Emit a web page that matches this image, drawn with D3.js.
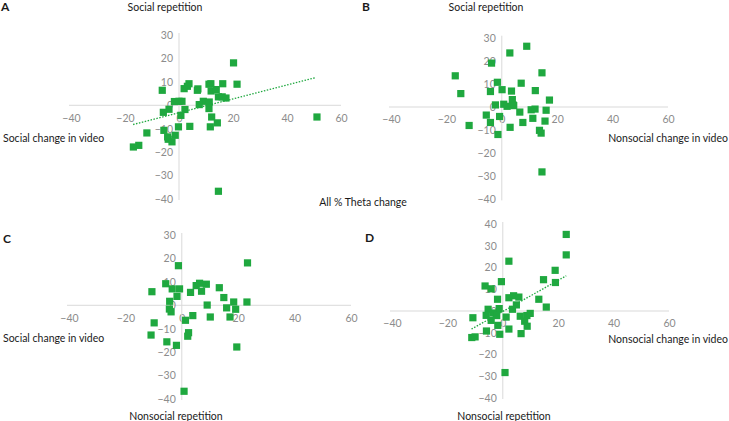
<!DOCTYPE html>
<html>
<head>
<meta charset="utf-8">
<script src="https://cdn.jsdelivr.net/npm/d3@7"></script>
<style>
  html, body { margin: 0; padding: 0; background: #fff; }
  svg { display: block; }
  text { font-family: Lato, "Open Sans", sans-serif; }
</style>
</head>
<body>
<svg id="chart" width="729" height="421"></svg>
<script>
// ---------- DATA ----------
const xTicks = [-40, -20, 0, 20, 40, 60];
const yTicksABC = [30, 20, 10, 0, -10, -20, -30, -40];
const yTicksD = [40, 30, 20, 10, 0, -10, -20, -30, -40];

// Panel A: Social repetition vs Social change in video  [x, y]
const pointsA = [
  [20.2, 18.1], [21.5, 9.0], [16.2, 9.2], [11.1, 9.0], [11.8, 9.2],
  [11.9, 6.1], [13.8, 6.7], [14.6, 3.6], [16.0, 3.6], [17.4, 3.1],
  [9.0, 1.7], [11.2, 1.4], [7.5, 0.3], [11.1, -1.4], [12.1, -5.0],
  [14.2, -7.5], [11.6, -9.2], [6.8, 6.4], [7.0, 7.0], [3.7, 9.2],
  [3.1, 8.1], [1.9, 7.1], [1.1, 1.7], [0.0, 1.7], [-1.7, 1.6],
  [2.2, -1.8], [0.7, -4.3], [-0.2, -9.2], [4.0, -9.0], [-3.7, -1.7],
  [-5.8, -3.0], [-6.2, 6.4], [-5.6, -10.7], [-4.2, -13.5], [-4.0, -14.5],
  [-2.6, -15.6], [-1.4, -12.8], [-11.9, -11.8], [-14.9, -17.1], [-16.9, -17.8],
  [51.1, -5.0], [14.6, -36.7]
];
const trendA = [[-17.0, -8.2], [50.6, 11.8]];

// Panel B: Social repetition vs Nonsocial change in video
const pointsB = [
  [9.0, 26.3], [2.9, 23.4], [-3.7, 19.0], [-16.8, 13.5], [14.5, 14.8],
  [-14.8, 5.8], [-1.6, 10.7], [-4.1, 6.7], [0.1, 7.5], [3.5, 6.9],
  [7.0, 10.3], [12.1, 7.1], [17.2, 3.0], [3.8, 3.2], [4.0, 1.0],
  [-2.3, 0.9], [0.7, 1.2], [1.9, 0.3], [4.3, 0.6], [6.5, -2.2],
  [10.6, -1.2], [12.0, -0.9], [16.0, -1.4], [11.2, -4.9], [7.6, -6.7],
  [15.6, -6.1], [-5.6, -3.5], [-4.1, -6.7], [-0.8, -4.1], [-11.8, -8.0],
  [3.0, -8.8], [-1.4, -11.9], [13.6, -10.1], [14.2, -11.3], [14.5, -28.1]
];

// Panel C: Nonsocial repetition vs Social change in video
const pointsC = [
  [23.3, 18.1], [-1.2, 16.9], [-10.6, 5.8], [-5.7, 9.2], [-3.4, 7.0],
  [-0.8, 7.0], [-1.7, 3.8], [-4.3, 1.7], [-4.4, -1.6], [-3.8, -2.8],
  [3.1, 5.5], [5.1, 8.4], [6.3, 9.4], [7.0, 6.0], [8.7, 9.0],
  [13.3, 7.5], [14.9, 3.3], [9.0, 0.1], [18.4, 1.4], [23.1, 1.4],
  [15.9, -1.1], [19.1, -1.7], [3.9, -4.4], [10.1, -5.0], [17.1, -5.0],
  [1.3, -6.4], [-9.8, -7.5], [2.4, -11.7], [2.1, -13.2], [-10.9, -12.7],
  [-5.3, -15.6], [-1.9, -17.1], [19.5, -17.8], [0.8, -36.7]
];

// Panel D: Nonsocial repetition vs Nonsocial change in video
const pointsD = [
  [22.9, 35.2], [22.9, 25.8], [18.9, 18.7], [19.0, 13.1], [14.7, 14.4],
  [13.0, 5.4], [15.7, 1.8], [2.2, 22.9], [-0.5, 13.5], [-6.4, 11.5],
  [-4.2, 10.2], [-1.9, 5.4], [3.9, 7.0], [2.2, 6.1], [5.8, 6.4],
  [4.9, 2.8], [3.5, 0.8], [-5.3, 0.8], [-1.3, 1.1], [-3.6, -0.9],
  [-6.0, -2.0], [-2.2, -2.1], [-4.2, -4.3], [1.2, -2.8], [6.3, -2.4],
  [8.7, -2.1], [9.9, -1.1], [7.9, -4.7], [8.8, -7.0], [-1.8, -6.6],
  [2.2, -8.3], [-10.8, -3.1], [-5.9, -9.2], [6.6, -10.4], [-1.1, -10.7],
  [-11.2, -12.2], [-10.0, -11.9], [0.8, -28.3]
];
const trendD = [[-11.3, -8.3], [22.9, 16.2]];

// ---------- LAYOUT ----------
const svg = d3.select("#chart");
const GREEN = "#1fa83f";
const AXIS = "#d9d9d9";
const TICK = "#8c8c8c";
const LABEL = "#1a1a1a";

const panels = [
  { pts: pointsA, trend: trendA, yTicks: yTicksABC, xr: [71, 341], yr: [199, 35], yd: [-40, 30] },
  { pts: pointsB, trend: null,   yTicks: yTicksABC, xr: [391, 668], yr: [199.4, 37.7], yd: [-40, 30] },
  { pts: pointsC, trend: null,   yTicks: yTicksABC, xr: [69, 351], yr: [399, 235], yd: [-40, 30] },
  { pts: pointsD, trend: trendD, yTicks: yTicksD,   xr: [392, 669], yr: [398, 224], yd: [-40, 40] }
];

panels.forEach(p => {
  const x = d3.scaleLinear().domain([-40, 60]).range(p.xr);
  const y = d3.scaleLinear().domain(p.yd).range(p.yr);
  const g = svg.append("g");

  // horizontal axis at y = 0
  const gx = g.append("g").attr("transform", `translate(0,${y(0)})`)
    .call(d3.axisBottom(x).tickValues(xTicks).tickSize(0).tickPadding(9).tickFormat(d3.format("d")));
  gx.select(".domain").attr("stroke", AXIS).attr("d", `M${x(-40) - 2},0H${x(60)}`);
  gx.selectAll("text").attr("fill", TICK).attr("font-size", 10.5).attr("font-family", "Lato, sans-serif");

  // vertical axis at x = 0
  const gy = g.append("g").attr("transform", `translate(${x(0)},0)`)
    .call(d3.axisLeft(y).tickValues(p.yTicks).tickSize(0).tickPadding(6).tickFormat(d3.format("d")));
  gy.select(".domain").attr("stroke", AXIS).attr("d", `M0,${y(p.yd[1]) - 2}V${y(p.yd[0]) + 1}`);
  gy.selectAll("text").attr("fill", TICK).attr("font-size", 10.5).attr("font-family", "Lato, sans-serif");

  // trend line
  if (p.trend) {
    g.append("line")
      .attr("x1", x(p.trend[0][0])).attr("y1", y(p.trend[0][1]))
      .attr("x2", x(p.trend[1][0])).attr("y2", y(p.trend[1][1]))
      .attr("stroke", GREEN).attr("stroke-width", 1.3).attr("stroke-dasharray", "1.5,1.5");
  }

  // points
  const s = 7.2;
  g.selectAll("rect.pt").data(p.pts).join("rect")
    .attr("class", "pt")
    .attr("x", d => x(d[0]) - s / 2).attr("y", d => y(d[1]) - s / 2)
    .attr("width", s).attr("height", s)
    .attr("fill", GREEN);
});

// ---------- TEXT LABELS ----------
const labels = [
  { t: "A", x: 1, y: 7, a: "start", b: true },
  { t: "Social repetition", x: 165, y: 7, a: "middle" },
  { t: "B", x: 362, y: 7, a: "start", b: true },
  { t: "Social repetition", x: 486, y: 7, a: "middle" },
  { t: "Social change in video", x: 3, y: 138, a: "start" },
  { t: "Nonsocial change in video", x: 728, y: 138, a: "end" },
  { t: "All % Theta change", x: 363, y: 202, a: "middle" },
  { t: "C", x: 3, y: 239, a: "start", b: true },
  { t: "Social change in video", x: 3, y: 338, a: "start" },
  { t: "Nonsocial repetition", x: 176, y: 416, a: "middle" },
  { t: "D", x: 365, y: 238, a: "start", b: true },
  { t: "Nonsocial change in video", x: 728, y: 339, a: "end" },
  { t: "Nonsocial repetition", x: 504, y: 416, a: "middle" }
];
svg.append("g").selectAll("text").data(labels).join("text")
  .attr("x", d => d.x).attr("y", d => d.y)
  .attr("dy", "0.35em")
  .attr("text-anchor", d => d.a)
  .attr("font-size", d => d.b ? 12 : 10.5)
  .attr("font-weight", d => d.b ? "bold" : "normal")
  .attr("fill", LABEL)
  .text(d => d.t);
</script>
</body>
</html>
